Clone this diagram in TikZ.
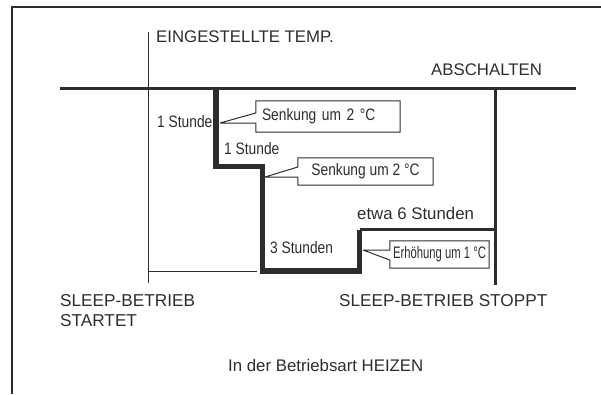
\documentclass[tikz,border=0pt]{standalone}
\usepackage{fontspec}
\setmainfont{Liberation Sans}
\newfontfamily\narrowfont[FakeStretch=0.83]{Liberation Sans}
\newfontfamily\tightfont[FakeStretch=0.68]{Liberation Sans}
\usetikzlibrary{calc}
\definecolor{inkgray}{RGB}{45,45,45}
\tikzset{
  frameline/.style={line width=1.2pt,inkgray},
  thinline/.style={line width=1pt,inkgray},
  axisline/.style={line width=3pt,inkgray},
  sleepline/.style={line width=5.5pt,inkgray,line join=miter},
  lbl/.style={anchor=base west,inner sep=0pt,text=inkgray,
    font=\fontsize{16.8}{20}\selectfont},
  smalllbl/.style={lbl,font=\narrowfont\fontsize{16.6}{20}\selectfont},
  callbox/.style={inner sep=0pt,text=inkgray,
    font=\narrowfont\fontsize{16.6}{20}\selectfont}
}

\begin{document}
\begin{tikzpicture}[x=1pt,y=-1pt]
  \useasboundingbox (0,0) rectangle (601,394);
  % frame
  \coordinate (f1) at (12,394);
  \coordinate (f2) at (12,7);
  \coordinate (f3) at (601,7);
  \draw[frameline] (f1) -- (f2) -- (f3);
  % axes
  \coordinate (t0) at (148,32);
  \coordinate (t1) at (148,283);
  \coordinate (h0) at (60,88);
  \coordinate (h1) at (576,88);
  \coordinate (r0) at (495,88);
  \coordinate (r1) at (495,285);
  \coordinate (b0) at (148,271);
  \coordinate (b1) at (257,271);
  \draw[thinline] (t0) -- (t1);
  \draw[thinline] (b0) -- (b1);
  \draw[axisline] (h0) -- (h1);
  \draw[axisline] (r0) -- (r1);
  % sleep curve
  \coordinate (s0) at (216,88);
  \coordinate (s1) at (216,166.5);
  \coordinate (s2) at (262.5,166.5);
  \coordinate (s3) at (262.5,271);
  \coordinate (s4) at (359.5,271);
  \coordinate (s5) at (359.5,229.5);
  \coordinate (s6) at (494,229.5);
  \draw[sleepline] (s0) -- (s1) -- (s2) -- (s3) -- (s4) -- (s5);
  \draw[axisline] (s5) -- (s6);
  % labels
  \node[lbl] (settemp) at (156,42) {EINGESTELLTE TEMP.};
  \node[lbl] (off) at (431,75) {ABSCHALTEN};
  \node[smalllbl] (hour1) at (157,127) {1 Stunde};
  \node[smalllbl] (hour2) at (224,154) {1 Stunde};
  \node[smalllbl] (hour3) at (270,253) {3 Stunden};
  \node[lbl] (hour6) at (357,219) {etwa 6 Stunden};
  \node[lbl,align=left,anchor=north west,font=\fontsize{17.2}{20}\selectfont]
    (start) at (60,294) {SLEEP-BETRIEB\\STARTET};
  \node[lbl,font=\fontsize{17.2}{20}\selectfont] (stop) at (339,306) {SLEEP-BETRIEB STOPPT};
  \node[lbl] (mode) at (228,371) {In der Betriebsart HEIZEN};
  % callouts
  \node[callbox,minimum height=31pt,text width=132pt,inner xsep=6pt,align=left]
    (box1) at (328,116.5) {Senkung um 2 °C};
  \node[callbox,minimum height=27pt,minimum width=135pt]
    (box2) at (365.5,171.5) {Senkung um 2 °C};
  \node[callbox,minimum height=27pt,minimum width=99pt,
    font=\tightfont\fontsize{16.6}{20}\selectfont] (box3) at (439.5,254.5) {Erhöhung um 1 °C};
  \coordinate (p1) at (220,123);
  \coordinate (g1) at (256,113);
  \coordinate (p2) at (265,177);
  \coordinate (g2) at (298,167);
  \coordinate (p3) at (363,250);
  \coordinate (g3) at (390,260);
  \draw[thinline] (p1) -- (box1.west |- g1) -- (box1.north west) -- (box1.north east)
    -- (box1.south east) -- (box1.south west) -- (box1.west |- p1) -- (p1);
  \draw[thinline] (p2) -- (box2.west |- g2) -- (box2.north west) -- (box2.north east)
    -- (box2.south east) -- (box2.south west) -- (box2.west |- p2) -- (p2);
  \draw[thinline] (p3) -- (box3.west |- p3) -- (box3.north west) -- (box3.north east)
    -- (box3.south east) -- (box3.south west) -- (box3.west |- g3) -- (p3);
\end{tikzpicture}
\end{document}
